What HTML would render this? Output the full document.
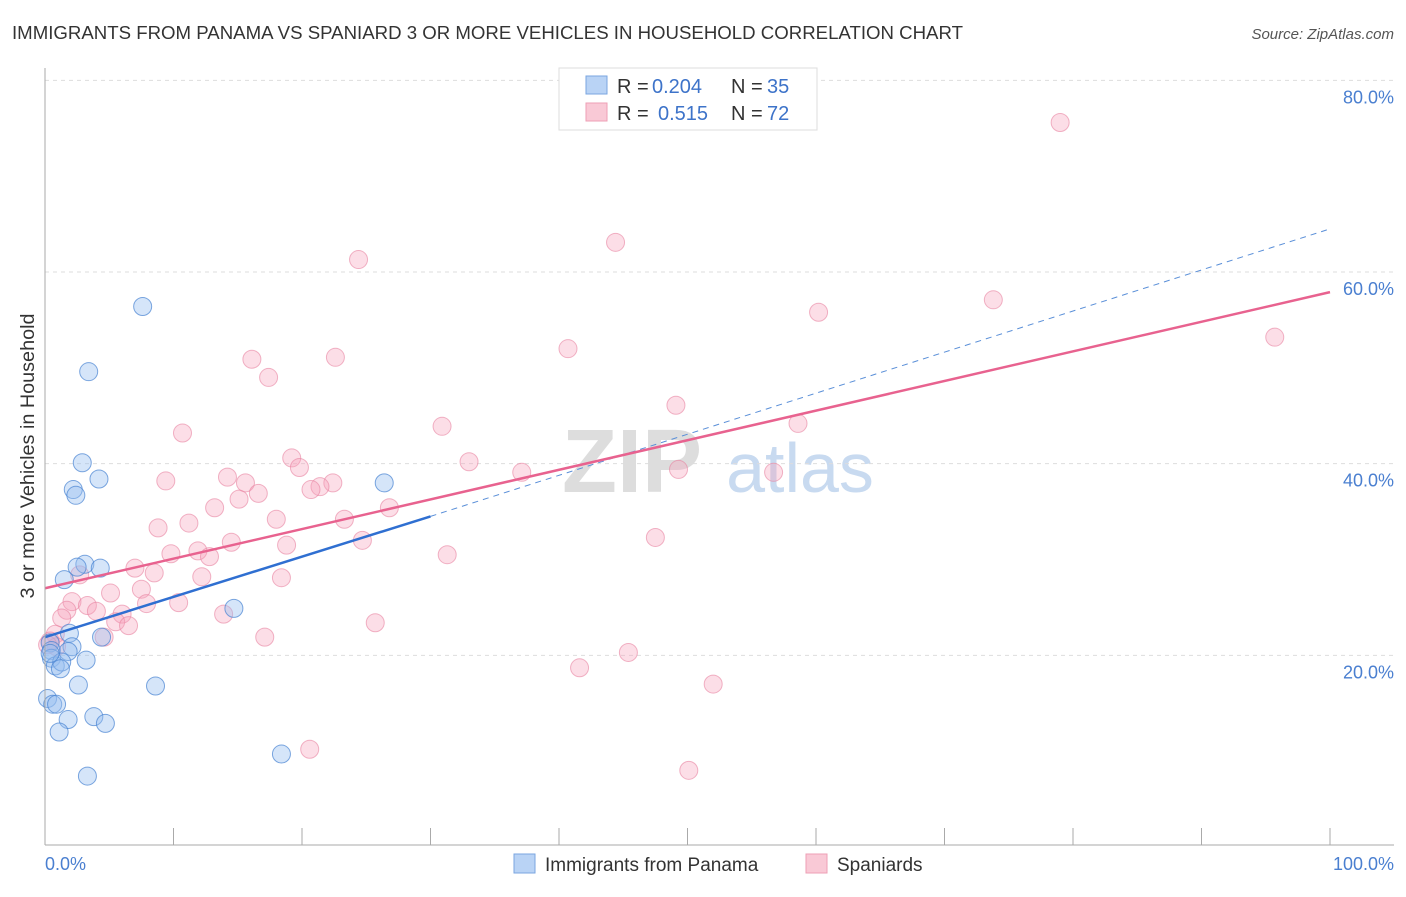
<!DOCTYPE html>
<html><head><meta charset="utf-8"><style>
body{margin:0;background:#fff;font-family:"Liberation Sans",sans-serif;}
svg text{font-family:"Liberation Sans",sans-serif;}
</style></head><body>
<svg width="1406" height="892" id="c">
<text x="12" y="39" font-size="18" fill="#333" textLength="951" lengthAdjust="spacingAndGlyphs">IMMIGRANTS FROM PANAMA VS SPANIARD 3 OR MORE VEHICLES IN HOUSEHOLD CORRELATION CHART</text>
<text x="1394" y="39" font-size="15" fill="#555" font-style="italic" text-anchor="end">Source: ZipAtlas.com</text>
<text x="34" y="456" font-size="19" fill="#333" text-anchor="middle" textLength="285" lengthAdjust="spacingAndGlyphs" transform="rotate(-90 34 456)">3 or more Vehicles in Household</text>
<text x="632" y="492" font-size="90" fill="#ddd" font-weight="bold" font-family="Liberation Serif" text-anchor="middle">ZIP</text>
<text x="800" y="492" font-size="70" fill="#c8daf0" text-anchor="middle">atlas</text>
<g id="grid"></g><g id="pts"></g><g id="lines"></g>
<line x1="45" y1="68" x2="45" y2="845" stroke="#aaa"/>
<line x1="45" y1="845" x2="1394" y2="845" stroke="#aaa"/>
<text x="45" y="870" font-size="18" fill="#4a7fd0">0.0%</text>
<text x="1394" y="870" font-size="18" fill="#4a7fd0" text-anchor="end">100.0%</text>
<g>
<rect x="559" y="68" width="258" height="62" fill="#fff" stroke="#ddd"/>
<rect x="586" y="76" width="21" height="18" fill="#b9d3f5" stroke="#7aa6e0"/>
<rect x="586" y="103" width="21" height="18" fill="#f9c9d6" stroke="#ee9fb5"/>
<text x="617" y="93" font-size="20" fill="#333">R =</text>
<text x="652" y="93" font-size="20" fill="#3d73c9">0.204</text>
<text x="731" y="93" font-size="20" fill="#333">N =</text>
<text x="767" y="93" font-size="20" fill="#3d73c9">35</text>
<text x="617" y="120" font-size="20" fill="#333">R =</text>
<text x="658" y="120" font-size="20" fill="#3d73c9">0.515</text>
<text x="731" y="120" font-size="20" fill="#333">N =</text>
<text x="767" y="120" font-size="20" fill="#3d73c9">72</text>
</g>
<g>
<rect x="514" y="854" width="21" height="19" fill="#b9d3f5" stroke="#7aa6e0"/>
<text x="545" y="871" font-size="19" fill="#333">Immigrants from Panama</text>
<rect x="806" y="854" width="21" height="19" fill="#f9c9d6" stroke="#ee9fb5"/>
<text x="837" y="871" font-size="19" fill="#333">Spaniards</text>
</g>
</svg>
<script>
const yTicks=[20,40,60,80];
const xTicks=[0,10,20,30,40,50,60,70,80,90,100];
const blueX=[7.6,3.4,2.9,4.2,2.2,2.4,26.4,3.1,2.5,4.3,1.5,1.9,4.4,2.1,14.7,0.4,0.5,1.8,0.5,0.8,1.3,3.2,1.2,2.6,8.6,0.2,0.6,0.9,3.8,1.8,4.7,1.1,18.4,3.3,0.4];
const blueY=[56.4,49.6,40.1,38.4,37.3,36.7,38.0,29.5,29.2,29.1,27.9,22.3,21.9,20.9,24.9,21.3,20.5,20.4,19.7,18.9,19.3,19.5,18.6,16.9,16.8,15.5,14.9,14.9,13.6,13.3,12.9,12.0,9.7,7.4,20.2];
const pinkX=[79,44.4,24.4,73.8,60.2,95.7,40.7,16.1,22.6,17.4,49.1,10.7,30.9,58.6,19.2,33,19.8,37.1,49.3,56.7,9.4,14.2,15.6,22.4,21.4,20.7,16.6,15.1,13.2,26.8,11.2,23.3,8.8,18,47.5,14.5,24.7,18.8,9.8,11.9,12.8,31.3,7,8.5,2.7,12.2,18.4,5.1,7.5,2.1,3.3,7.9,10.4,4,1.7,6,13.9,5.5,1.3,6.5,25.7,0.8,17.1,4.6,0.4,0.9,45.4,41.6,52,20.6,50.1,0.2];
const pinkY=[75.6,63.1,61.3,57.1,55.8,53.2,52,50.9,51.1,49,46.1,43.2,43.9,44.2,40.6,40.2,39.6,39.1,39.4,39.1,38.2,38.6,38,38,37.6,37.3,36.9,36.3,35.4,35.4,33.8,34.2,33.3,34.2,32.3,31.8,32,31.5,30.6,30.9,30.3,30.5,29.1,28.6,28.4,28.2,28.1,26.5,26.9,25.6,25.2,25.4,25.5,24.6,24.7,24.3,24.3,23.5,23.9,23.1,23.4,22.2,21.9,21.9,21.5,20.9,20.3,18.7,17,10.2,8,21.1];
const blueFit=[[0,21.9],[30,34.5]];
const blueDash=[[30,34.5],[100,64.5]];
const pinkFit=[[0,27.0],[100,57.9]];
const X=v=>45+v*12.85, Y=v=>847-v*9.583;
const NS="http://www.w3.org/2000/svg";
const grid=document.getElementById('grid'),pts=document.getElementById('pts'),lines=document.getElementById('lines');
function mk(tag,a,p){const e=document.createElementNS(NS,tag);for(const k in a)e.setAttribute(k,a[k]);p.appendChild(e);return e;}
yTicks.forEach(t=>{
 const l=mk('line',{x1:45,x2:1394,y1:Y(t),y2:Y(t),stroke:'#ddd','stroke-dasharray':'4,4'},grid);
 
 
 const tx=mk('text',{x:1394,y:Y(t)+23,'font-size':18,fill:'#4a7fd0','text-anchor':'end'},grid);
 tx.textContent=t.toFixed(1)+'%';
 
 
});
xTicks.forEach(t=>{
 const l=mk('line',{x1:X(t),x2:X(t),y1:828,y2:845,stroke:'#aaa'},grid);
 
 
});
pinkX.forEach((v,i)=>{
 const c=mk('circle',{cx:X(v),cy:Y(pinkY[i]),r:9,fill:'rgba(245,160,185,0.35)',stroke:'rgba(232,130,160,0.6)','stroke-width':1},pts);
 
 
});
blueX.forEach((v,i)=>{
 const c=mk('circle',{cx:X(v),cy:Y(blueY[i]),r:9,fill:'rgba(150,190,240,0.4)',stroke:'rgba(70,130,210,0.7)','stroke-width':1},pts);
 
 
});
let l=mk('line',{x1:X(blueDash[0][0]),y1:Y(blueDash[0][1]),x2:X(blueDash[1][0]),y2:Y(blueDash[1][1]),stroke:'#5a8fd8','stroke-width':1,'stroke-dasharray':'6,5'},lines);


l=mk('line',{x1:X(pinkFit[0][0]),y1:Y(pinkFit[0][1]),x2:X(pinkFit[1][0]),y2:Y(pinkFit[1][1]),stroke:'#e8628f','stroke-width':2.5},lines);


l=mk('line',{x1:X(blueFit[0][0]),y1:Y(blueFit[0][1]),x2:X(blueFit[1][0]),y2:Y(blueFit[1][1]),stroke:'#2f6fd1','stroke-width':2.5},lines);


</script>
</body></html>
